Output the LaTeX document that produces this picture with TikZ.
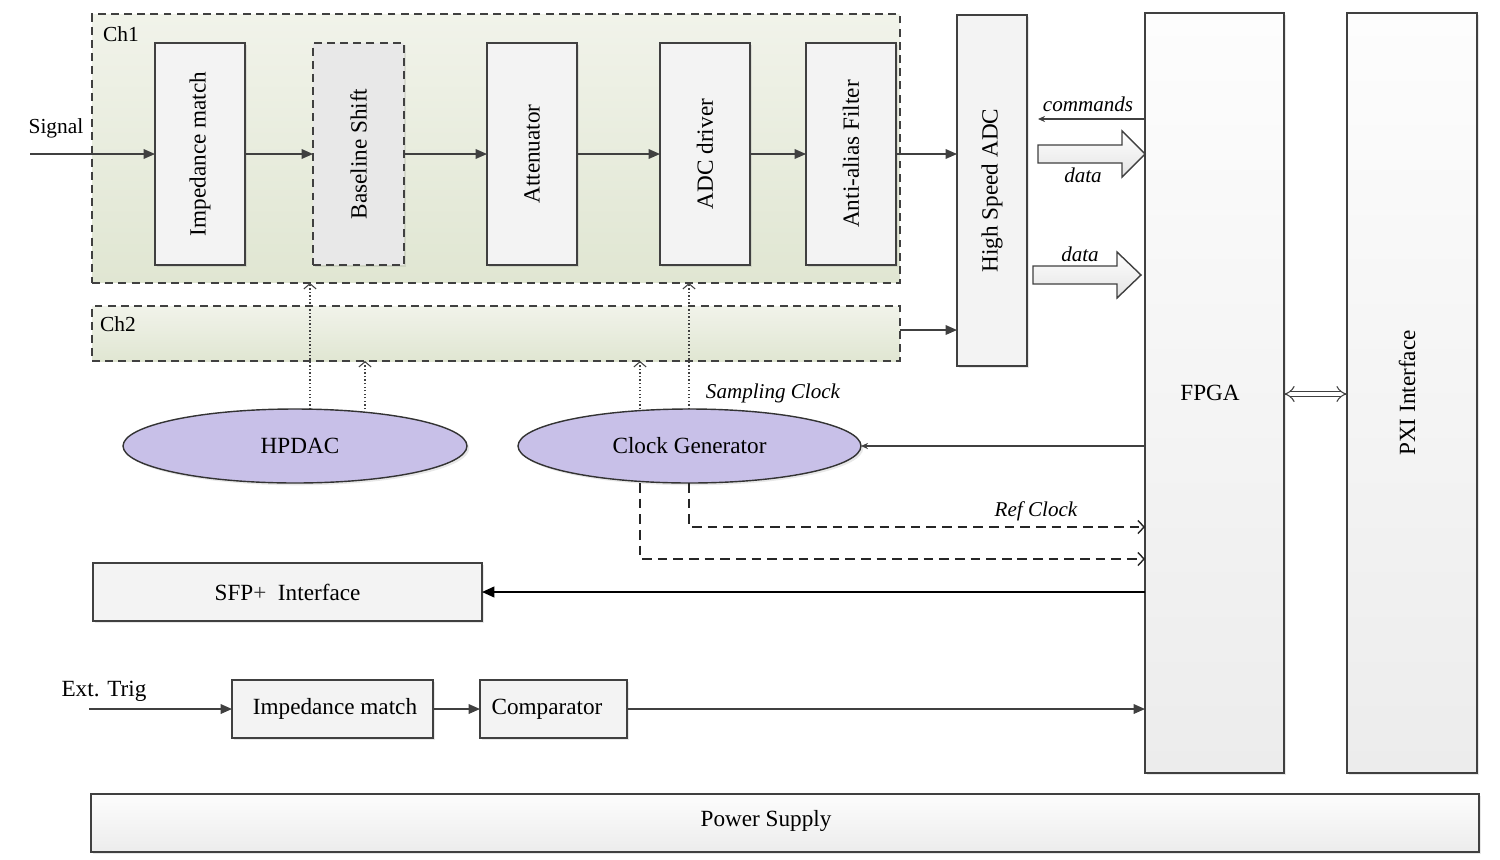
\documentclass[tikz,border=0pt]{standalone}
\usepackage{fontspec}
\setmainfont{Liberation Serif}
\usetikzlibrary{arrows.meta,shapes.geometric,shadows}
\definecolor{chtop}{RGB}{241,243,234}
\definecolor{chbot}{RGB}{224,230,210}
\definecolor{lineg}{RGB}{64,64,64}
\definecolor{ellf}{RGB}{200,192,232}
\definecolor{boxf}{RGB}{243,243,243}
\definecolor{boxtop}{RGB}{253,253,253}
\definecolor{boxbot}{RGB}{236,236,236}
\begin{document}
\begin{tikzpicture}[x=0.02cm,y=-0.02cm,
  font=\fontsize{13.2}{15}\selectfont,
  every node/.style={inner sep=0pt, outer sep=0pt},
  shad/.style={drop shadow={shadow xshift=1.3pt, shadow yshift=-1.3pt, opacity=0.18}},
  chan/.style={rectangle, draw=lineg, dash pattern=on 4.5pt off 3pt, line width=0.8pt, top color=chtop, bottom color=chbot},
  blk/.style={rectangle, draw=lineg, line width=0.8pt, fill=boxf, shad},
  dblk/.style={rectangle, draw=lineg, line width=0.8pt, fill=gray!18, dash pattern=on 4.5pt off 3pt, shad},
  tall/.style={rectangle, draw=lineg, line width=0.8pt, top color=boxtop, bottom color=boxbot, shad},
  ell/.style={ellipse, draw=black!80, line width=0.8pt, fill=ellf, shad},
  arr/.style={draw=lineg, line width=0.8pt, -{Triangle[length=6.5pt,width=5.5pt]}},
  sarr/.style={draw=lineg, line width=0.7pt, -{Stealth[length=4pt,width=3.5pt]}},
  dotarr/.style={draw=lineg, line width=0.6pt, dash pattern=on 0.8pt off 1.2pt, -{Straight Barb[length=3pt,width=7pt]}},
  dasharr/.style={draw=black!85, line width=0.8pt, dash pattern=on 5.5pt off 3.4pt, -{Straight Barb[length=3.5pt,width=7.5pt]}},
  bigarr/.style={draw=lineg, line width=0.8pt, top color=white, bottom color=gray!22},
  small/.style={font=\fontsize{12.2}{14}\selectfont},
  lbl/.style={font=\fontsize{12}{14}\selectfont\itshape}
]
\useasboundingbox (0,0) rectangle (1500,859);

% channels
\node[chan, minimum width=16.16cm, minimum height=5.38cm] (ch1) at (496,148.5) {};
\node[chan, minimum width=16.16cm, minimum height=1.1cm] (ch2) at (496,333.5) {};
\node[small, anchor=west] (ch1l) at (103,34) {Ch1};
\node[small, anchor=west] (ch2l) at (100,324) {Ch2};

% ch1 blocks
\node[blk, minimum width=1.8cm, minimum height=4.44cm] (imp) at (200,154) {\rotatebox{90}{Impedance match}};
\node[dblk, minimum width=1.82cm, minimum height=4.44cm] (base) at (358.5,154) {\rotatebox{90}{Baseline Shift}};
\node[blk, minimum width=1.8cm, minimum height=4.44cm] (att) at (532,154) {\rotatebox{90}{Attenuator}};
\node[blk, minimum width=1.8cm, minimum height=4.44cm] (drv) at (705,154) {\rotatebox{90}{ADC driver}};
\node[blk, minimum width=1.8cm, minimum height=4.44cm] (aaf) at (851,154) {\rotatebox{90}{Anti-alias Filter}};

% ADC, FPGA, PXI
\node[blk, minimum width=1.4cm, minimum height=7.02cm] (adc) at (992,190.5) {\rotatebox{90}{High Speed ADC}};
\node[tall, minimum width=2.78cm, minimum height=15.2cm] (fpga) at (1214.5,393) {\hspace{-0.18cm}FPGA};
\node[tall, minimum width=2.6cm, minimum height=15.2cm] (pxi) at (1412,393) {\hspace{-0.2cm}\rotatebox{90}{PXI Interface}};

% ellipses
\node[ell, minimum width=6.88cm, minimum height=1.48cm] (hpdac) at (295,446) {\hspace{0.2cm}HPDAC};
\node[ell, minimum width=6.86cm, minimum height=1.48cm] (clk) at (689.5,446) {Clock Generator};

% lower blocks
\node[blk, minimum width=7.78cm, minimum height=1.16cm] (sfp) at (287.5,592) {SFP\textcolor{black!80}{+}\ \ Interface};
\node[blk, minimum width=4.02cm, minimum height=1.16cm] (imp2) at (332.5,709) {\hspace{0.1cm}Impedance match};
\node[blk, minimum width=2.94cm, minimum height=1.16cm] (comp) at (553.5,709) {\hspace{-0.26cm}Comparator};
\node[tall, minimum width=27.76cm, minimum height=1.16cm] (pwr) at (785,823) {};
\node (pwrl) at (766,821) {Power Supply};

% text labels
\node[small] (sig) at (56,128) {Signal};
\node (ext) at (104,691) {Ext. Trig};
\node[lbl] (cmdl) at (1088,104) {commands};
\node[lbl] (data1) at (1083,175) {data};
\node[lbl] (data2) at (1080,254) {data};
\node[lbl] (sampl) at (773,393) {Sampling Clock};
\node[lbl] (refl) at (1036,511) {Ref Clock};

% coordinates
\coordinate (sigin) at (30,154);
\coordinate (extin) at (89,709);
\coordinate (y330) at (0,330);
\coordinate (ycmd) at (0,119);
\coordinate (cmdend) at (1038,119);
\coordinate (y394) at (0,394);
\coordinate (x310) at (310,0);
\coordinate (x365) at (365,0);
\coordinate (x689) at (689,0);
\coordinate (x640) at (640,0);
\coordinate (r1) at (0,527);
\coordinate (r2) at (0,559);

% signal chain
\draw[arr] (sigin) -- (imp.west);
\draw[arr] (imp) -- (base);
\draw[arr] (base) -- (att);
\draw[arr] (att) -- (drv);
\draw[arr] (drv) -- (aaf);
\draw[arr] (aaf.east) -- (aaf.east -| adc.west);
\draw[arr] (ch2.east |- y330) -- (adc.west |- y330);

% commands and data
\draw[sarr] (fpga.west |- ycmd) -- (cmdend);
\draw[bigarr] (1038,145) -- (1122,145) -- (1122,131) -- (1145,154) -- (1122,177) -- (1122,163) -- (1038,163) -- cycle;
\draw[bigarr] (1033,266) -- (1117,266) -- (1117,252) -- (1141,275) -- (1117,298) -- (1117,284) -- (1033,284) -- cycle;

% FPGA <-> PXI
\draw[draw=lineg, line width=0.6pt, double=white, double distance=2.6pt, {Implies}-{Implies}] (fpga.east |- y394) -- (pxi.west |- y394);

% DAC and clock dotted
\draw[dotarr] (x310 |- hpdac.north) -- (x310 |- ch1.south);
\draw[dotarr] (x365 |- hpdac.north) -- (x365 |- ch2.south);
\draw[dotarr] (x689 |- clk.north) -- (x689 |- ch1.south);
\draw[dotarr] (x640 |- clk.north) -- (x640 |- ch2.south);

% FPGA to clock
\draw[sarr] (fpga.west |- clk.east) -- (clk.east);

% ref clocks
\draw[dasharr] (x689 |- clk.south) |- (fpga.west |- r1);
\draw[dasharr] (x640 |- clk.south) |- (fpga.west |- r2);

% SFP
\draw[draw=black, line width=1.2pt, -{Triangle[length=7pt,width=6pt]}] (fpga.west |- sfp.east) -- (sfp.east);

% trigger
\draw[arr] (extin) -- (imp2.west);
\draw[arr] (imp2) -- (comp);
\draw[arr] (comp.east) -- (fpga.west |- comp.east);
\end{tikzpicture}
\end{document}
